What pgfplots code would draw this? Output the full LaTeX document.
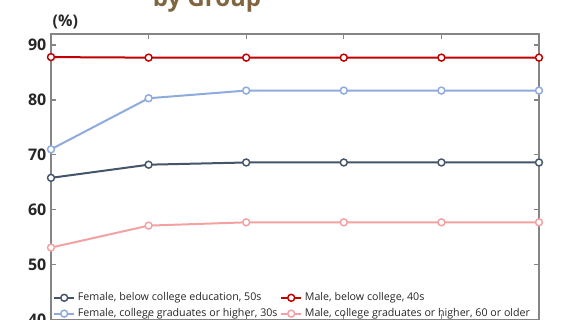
\documentclass[border=0pt]{standalone}
\usepackage{pgfplots}
\usepackage{pgfplotstable}
\pgfplotsset{compat=1.18}
\usepackage{fontspec}
\setmainfont{Open Sans}

\definecolor{darkslate}{HTML}{44546A}
\definecolor{lightblue}{HTML}{8FAADC}
\definecolor{darkred}{HTML}{C00000}
\definecolor{lightpink}{HTML}{F2A2A2}
\definecolor{titlebrown}{HTML}{806640}
\definecolor{framegray}{HTML}{858585}

% Share (%) by group over six periods
\pgfplotstableread{
x  femlow50  malelow40  femcol30  malecol60
0  65.8      87.8       71.0      53.1
1  68.2      87.7       80.3      57.1
2  68.6      87.7       81.7      57.7
3  68.6      87.7       81.7      57.7
4  68.6      87.7       81.7      57.7
5  68.6      87.7       81.7      57.7
}\groupdata

\begin{document}
\begin{tikzpicture}
\clip (0pt,0pt) rectangle (431.25pt,240pt);
\useasboundingbox (0pt,0pt) rectangle (431.25pt,240pt);
\node[anchor=base, font=\bfseries\fontsize{18}{20}\selectfont, text=titlebrown] at (155.25pt,234.75pt) {by Group};
\node[font=\bfseries\fontsize{12}{14}\selectfont, text=black!85] at (49pt,223.5pt) {(\%)};
\begin{axis}[
  at={(38.25pt,0.375pt)}, anchor=south west,
  scale only axis, width=366pt, height=214.1pt,
  xmin=0, xmax=5, ymin=40, ymax=92,
  xtick={0,1,2,3,4,5}, xticklabels={},
  ytick={40,50,60,70,80,90},
  tick align=inside,
  major tick length=3.75pt,
  axis line style={framegray, line width=0.9pt},
  every tick/.style={framegray, line width=0.9pt},
  yticklabel style={font=\bfseries\fontsize{12}{14}\selectfont, text=black!85},
  /pgf/number format/assume math mode=true,
  every axis plot/.append style={line width=1.5pt, mark=*, mark size=2.6pt,
    mark options={fill=white, line width=1.1pt, solid}},
  legend columns=2,
  legend cell align=left,
  legend style={draw=none, fill=none, at={(0.004,0.104)}, anchor=north west,
    inner xsep=0pt, inner ysep=0pt,
    font=\fontsize{8}{9.5}\selectfont, text=black!85,
    /tikz/every even column/.append style={column sep=0pt},
    row sep=0.3pt},
  legend image code/.code={\draw[mark repeat=2, mark phase=2]
    plot coordinates {(0pt,0pt) (7.5pt,0pt) (15pt,0pt)};},
]
\addplot[color=darkslate] table[x=x, y=femlow50] {\groupdata};
\addlegendentry{Female, below college education, 50s}
\addplot[color=darkred] table[x=x, y=malelow40] {\groupdata};
\addlegendentry{Male, below college, 40s}
\addplot[color=lightblue] table[x=x, y=femcol30] {\groupdata};
\addlegendentry{Female, college graduates or higher, 30s}
\addplot[color=lightpink] table[x=x, y=malecol60] {\groupdata};
\addlegendentry{Male, college graduates or higher, 60 or older}
\end{axis}
\end{tikzpicture}
\end{document}
